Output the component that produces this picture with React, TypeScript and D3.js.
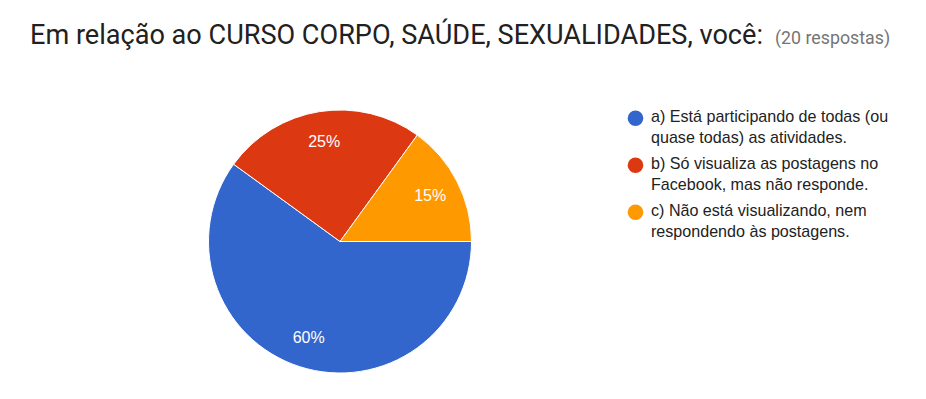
import React from "react";
import * as d3 from "d3";

const categories = [
  "a) Está participando de todas (ou|quase todas) as atividades.",
  "b) Só visualiza as postagens no|Facebook, mas não responde.",
  "c) Não está visualizando, nem|respondendo às postagens.",
];
const values = [60, 25, 15];
const colors = ["#3366CC", "#DC3912", "#FF9900"];
const titleText = "Em relação ao CURSO CORPO, SAÚDE, SEXUALIDADES, você:";
const subText = "(20 respostas)";

export default function App() {
  const W = 926, H = 399;
  const cx = 340, cy = 241.5, r = 131.5;
  const pie = d3.pie<number>().sort(null).startAngle(Math.PI / 2).endAngle(Math.PI / 2 + 2 * Math.PI);
  const arcs = pie(values);
  const arc = d3.arc<d3.PieArcDatum<number>>().innerRadius(0).outerRadius(r);
  const labelArc = d3.arc<d3.PieArcDatum<number>>().innerRadius(r * 0.77).outerRadius(r * 0.77);
  const total = d3.sum(values);
  return (
    <svg width={W} height={H} style={{ position: "absolute", left: 0, top: 0, background: "#fff" }}>
      <rect width={W} height={H} fill="#fff" />
      <text x={30} y={43.5} fontFamily="Roboto" fontSize={27.1} fill="#212121">
        {titleText}
        <tspan dx={12} fontSize={17.8} fill="#757575">{subText}</tspan>
      </text>
      <g transform={`translate(${cx},${cy})`}>
        {arcs.map((a, i) => (
          <path key={i} d={arc(a) as string} fill={colors[i]} stroke="#fff" strokeWidth={1} />
        ))}
        {arcs.map((a, i) => {
          const [lx, ly] = labelArc.centroid(a);
          return (
            <text key={"l" + i} x={lx} y={ly} textAnchor="middle" dominantBaseline="central"
              fontFamily="Arial, 'Liberation Sans'" fontSize={16} fill="#fff">
              {Math.round((values[i] / total) * 100)}%
            </text>
          );
        })}
      </g>
      <g>
        {categories.map((c, i) => {
          const lines = c.split("|");
          const base = 122 + i * 47;
          return (
            <g key={i}>
              <circle cx={635.5} cy={base - 3.8} r={7.8} fill={colors[i]} />
              {lines.map((ln, j) => (
                <text key={j} x={651} y={base + j * 21.3} fontFamily="Arial, 'Liberation Sans'" fontSize={16.1} fill="#222">
                  {ln}
                </text>
              ))}
            </g>
          );
        })}
      </g>
    </svg>
  );
}
